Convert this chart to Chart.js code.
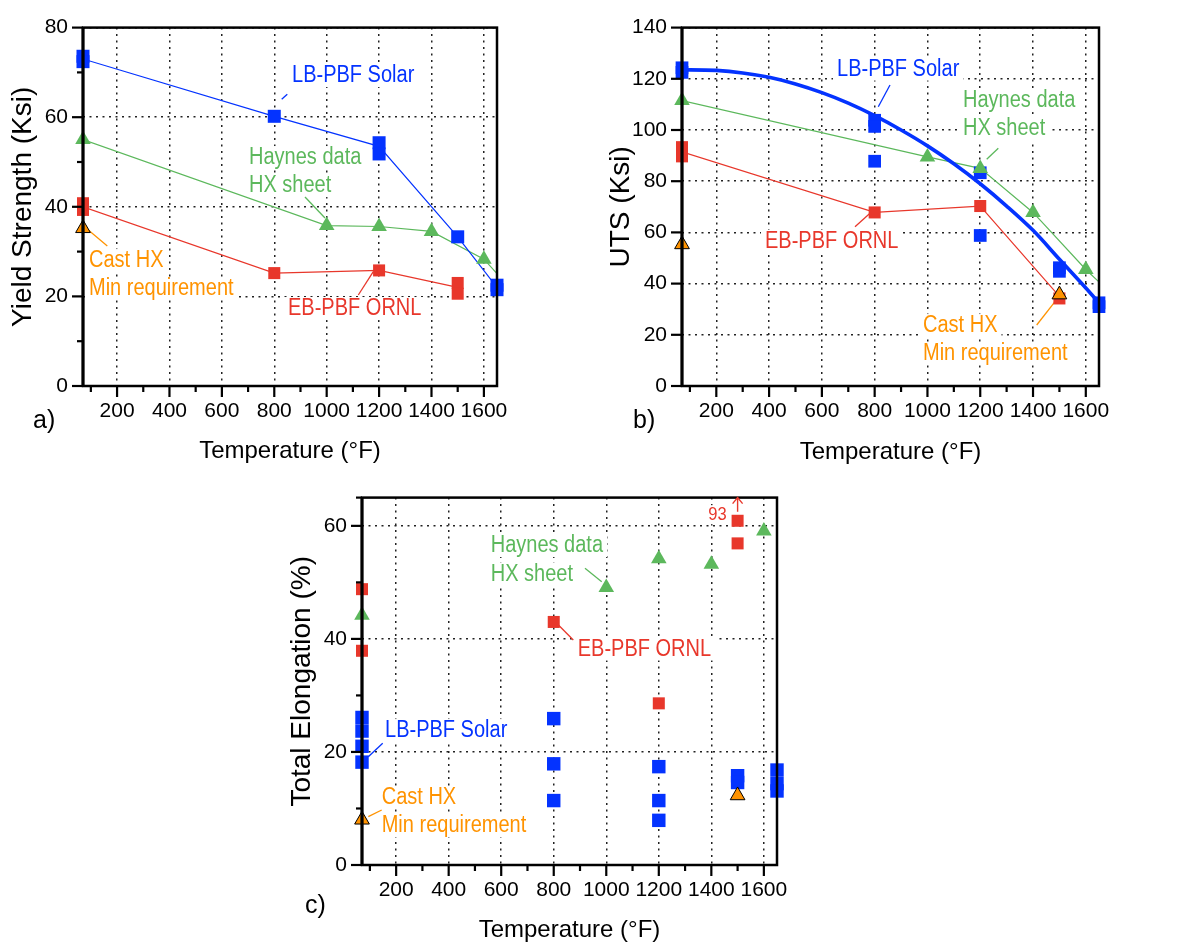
<!DOCTYPE html>
<html><head><meta charset="utf-8">
<script src="https://cdn.jsdelivr.net/npm/chart.js@4/dist/chart.umd.min.js"></script>
<style>
html,body{margin:0;padding:0;background:#fff;width:1185px;height:949px;overflow:hidden;}
canvas{position:absolute;}
</style></head><body>
<canvas id="ca" width="590" height="470" style="left:0;top:0;width:590px;height:470px"></canvas>
<canvas id="cb" width="595" height="470" style="left:590px;top:0;width:595px;height:470px"></canvas>
<canvas id="cc" width="600" height="479" style="left:280px;top:470px;width:600px;height:479px"></canvas>
<script>
// ---------- DATA ----------
const tempTicks = [100,200,300,400,500,600,700,800,900,1000,1100,1200,1300,1400,1500,1600];

// Panel a: Yield strength (Ksi)
const aLbLineX = [70, 800, 1200, 1500, 1650];
const aLbLineY = [73, 60.2, 53.5, 33.3, 22];
const aLbPtsX  = [70, 70, 800, 1200, 1200, 1500, 1650, 1650];
const aLbPtsY  = [73.6, 72.4, 60.2, 54.3, 51.8, 33.3, 22.5, 21.5];
const aHayX    = [70, 1000, 1200, 1400, 1600, 1800];
const aHayY    = [55, 35.8, 35.6, 34.5, 28.3, 15.5];
const aEbLineX = [70, 800, 1200, 1500];
const aEbLineY = [40, 25.2, 25.8, 22];
const aEbPtsX  = [70, 70, 800, 1200, 1500, 1500];
const aEbPtsY  = [40.8, 39.3, 25.2, 25.8, 23.0, 20.6];
const aCastX   = [70];
const aCastY   = [35.2];

// Panel b: UTS (Ksi)
const bFitX    = [70,100,200,300,400,500,600,700,800,900,1000,1100,1200,1300,1400,1500,1600,1650];
const bFitY    = [123.4,123.5,123.3,122.3,120.6,118,114.6,110.5,105.6,100,93.8,86.8,79,70.3,60.8,49.5,38.3,32.5];
const bLbPtsX  = [70, 70, 800, 800, 800, 1200, 1200, 1500, 1500, 1650, 1650];
const bLbPtsY  = [124.3, 122.5, 103.8, 101.4, 87.8, 83.3, 58.8, 46.2, 44.8, 32.5, 31];
const bHayX    = [70, 1000, 1200, 1400, 1600, 1800];
const bHayY    = [111.5, 89.5, 85, 67.8, 45.5, 26];
const bEbLineX = [70, 800, 1200, 1500];
const bEbLineY = [91.5, 67.8, 70.3, 35];
const bEbPtsX  = [70, 70, 800, 1200, 1500];
const bEbPtsY  = [93.3, 89.7, 67.8, 70.3, 34.2];
const bCastX   = [70, 1500];
const bCastY   = [55.3, 35.7];

// Panel c: Total elongation (%)
const cLbX  = [70, 70, 70, 70, 800, 800, 800, 1200, 1200, 1200, 1500, 1500, 1650, 1650, 1650];
const cLbY  = [26.1, 23.7, 21, 18.2, 25.9, 17.9, 11.4, 17.4, 11.4, 7.9, 15.8, 14.6, 16.8, 14.4, 13.1];
const cEbX  = [70, 70, 800, 1200, 1500, 1500];
const cEbY  = [48.8, 37.9, 43, 28.6, 60.9, 56.9];
const cHayX = [70, 1000, 1200, 1400, 1600];
const cHayY = [44.2, 49.1, 54.2, 53.2, 59.1];
const cCastX = [70, 1500];
const cCastY = [8.0, 12.3];

// ---------- STYLE ----------
const F = '"Liberation Sans", Arial, Helvetica, sans-serif';
const BLUE = '#0433FF', RED = '#E8372B', GREEN = '#5CB85C', ORANGE = '#FF9300';
const SQX = 0.87; // horizontal compression of annotation text

function pts(xs, ys){ return xs.map((x,i)=>({x:x, y:ys[i]})); }

function lineDs(xs, ys, color, width, order, extra){
  return Object.assign({type:'line', data:pts(xs,ys), borderColor:color, borderWidth:width,
    pointRadius:0, showLine:true, fill:false, tension:0, order:order}, extra||{});
}
function markDs(xs, ys, color, style, r, order, border){
  return {type:'scatter', data:pts(xs,ys), showLine:false, pointStyle:style, pointRadius:r,
    backgroundColor:color, borderColor:border||color, borderWidth:border?1:0, clip:false, order:order};
}

function makeScales(yMax, yTitle, yW, yTitlePad, xTitlePad){
  return {
    x:{type:'linear', min:70, max:1650,
      afterBuildTicks: s=>{ s.ticks = tempTicks.map(v=>({value:v})); },
      afterFit: s=>{ s.height = 84; },
      ticks:{autoSkip:false, maxRotation:0, padding:13, color:'#000', font:{family:F, size:21},
        callback: v => (v % 200 === 0 ? String(v) : '')},
      grid:{drawTicks:false, lineWidth:1.5,
        color: c => (c.tick && c.tick.value % 200 === 0) ? '#222' : 'rgba(0,0,0,0)'},
      border:{display:false, dash:[2,4.5]},
      title:{display:true, text:'Temperature (°F)', color:'#000', font:{family:F, size:24},
        padding:{top:0, bottom:xTitlePad}}
    },
    y:{type:'linear', min:0, max:yMax,
      afterFit: s=>{ s.width = yW; },
      ticks:{stepSize:10, padding:15, color:'#000', font:{family:F, size:21},
        callback: v => (v % 20 === 0 ? String(v) : '')},
      grid:{drawTicks:false, lineWidth:1.5,
        color: c => (c.tick && c.tick.value % 20 === 0) ? '#222' : 'rgba(0,0,0,0)'},
      border:{display:false, dash:[2,4.5]},
      title:{display:true, text:yTitle, color:'#000', font:{family:F, size:28},
        padding:{top:yTitlePad, bottom:0}}
    }
  };
}

const framePlugin = {
  id:'frame',
  afterDatasetsDraw(chart){
    const ctx = chart.ctx, a = chart.chartArea;
    ctx.save();
    ctx.strokeStyle = '#000';
    ctx.lineWidth = 2.5;
    ctx.strokeRect(a.left, a.top, a.right - a.left, a.bottom - a.top);
    ctx.lineWidth = 3;
    ctx.beginPath(); ctx.moveTo(a.left, a.top); ctx.lineTo(a.left, a.bottom); ctx.stroke();
    // outward ticks from the scales
    ctx.lineWidth = 2.2;
    const xs = chart.scales.x, ys = chart.scales.y;
    xs.ticks.forEach(t=>{
      const px = xs.getPixelForValue(t.value);
      const len = (t.value % 200 === 0) ? 11 : 6;
      ctx.beginPath(); ctx.moveTo(px, a.bottom); ctx.lineTo(px, a.bottom + len); ctx.stroke();
    });
    ys.ticks.forEach(t=>{
      const py = ys.getPixelForValue(t.value);
      const len = (t.value % 20 === 0) ? 11 : 6;
      ctx.beginPath(); ctx.moveTo(a.left, py); ctx.lineTo(a.left - len, py); ctx.stroke();
    });
    ctx.restore();
  }
};

function annoPlugin(texts, leaders, extra){
  return {
    id:'anno',
    beforeDatasetsDraw(chart){
      const ctx = chart.ctx;
      ctx.save();
      texts.forEach(t=>{
        const sz = t.size || 23, sx = (t.sx === undefined) ? SQX : t.sx;
        ctx.font = sz + 'px ' + F;
        const w = ctx.measureText(t.t).width * sx;
        if (t.bg !== false){
          ctx.fillStyle = '#fff';
          ctx.fillRect(t.x - 4, t.y - sz*0.78, w + 8, sz*1.0);
        }
      });
      texts.forEach(t=>{
        const sz = t.size || 23, sx = (t.sx === undefined) ? SQX : t.sx;
        ctx.save();
        ctx.font = sz + 'px ' + F;
        ctx.fillStyle = t.c;
        ctx.textBaseline = 'alphabetic';
        ctx.textAlign = 'left';
        ctx.translate(t.x, t.y);
        ctx.scale(sx, 1);
        ctx.fillText(t.t, 0, 0);
        ctx.restore();
      });
      leaders.forEach(l=>{
        ctx.strokeStyle = l.c; ctx.lineWidth = 1.3;
        ctx.beginPath(); ctx.moveTo(l.p[0], l.p[1]); ctx.lineTo(l.p[2], l.p[3]); ctx.stroke();
      });
      ctx.restore();
    },
    afterDatasetsDraw(chart){ if (extra) extra(chart); }
  };
}

function build(id, datasets, scales, pad, plugins){
  new Chart(document.getElementById(id), {
    type:'scatter',
    data:{datasets:datasets},
    options:{responsive:false, animation:false, devicePixelRatio:1, events:[],
      layout:{padding:pad},
      plugins:{legend:{display:false}, tooltip:{enabled:false}},
      scales:scales},
    plugins:plugins
  });
}

// ---------- Panel a ----------
build('ca', [
  markDs(aCastX, aCastY, ORANGE, 'triangle', 8.5, 1, '#000'),
  markDs(aHayX.slice(0,5), aHayY.slice(0,5), GREEN, 'triangle', 9, 2),
  markDs(aEbPtsX, aEbPtsY, RED, 'rect', 8.5, 3),
  markDs(aLbPtsX, aLbPtsY, BLUE, 'rect', 9.2, 4),
  lineDs(aLbLineX, aLbLineY, BLUE, 1.2, 5),
  lineDs(aEbLineX, aEbLineY, RED, 1.2, 6),
  lineDs(aHayX, aHayY, GREEN, 1.2, 7)
], makeScales(80, 'Yield Strength (Ksi)', 83, 6, 4), {left:0, top:16, right:93, bottom:0},
[framePlugin, annoPlugin([
  {t:'LB-PBF Solar', x:292, y:82, c:BLUE},
  {t:'Haynes data', x:249, y:164, c:GREEN},
  {t:'HX sheet', x:249, y:192, c:GREEN},
  {t:'Cast HX', x:89, y:267, c:ORANGE},
  {t:'Min requirement', x:89, y:295, c:ORANGE},
  {t:'EB-PBF ORNL', x:288, y:315, c:RED},
  {t:'a)', x:33, y:428, c:'#000', size:25, sx:1, bg:false}
], [
  {c:BLUE, p:[281.7,99.3,287.3,94.3]},
  {c:GREEN, p:[305,197,325,218]},
  {c:ORANGE, p:[107.3,246,88.3,230]},
  {c:RED, p:[358.3,295,373.3,271.7]}
])]);

// ---------- Panel b ----------
build('cb', [
  markDs(bCastX, bCastY, ORANGE, 'triangle', 8.5, 1, '#000'),
  markDs(bHayX.slice(0,5), bHayY.slice(0,5), GREEN, 'triangle', 9, 2),
  markDs(bEbPtsX, bEbPtsY, RED, 'rect', 8.5, 3),
  markDs(bLbPtsX, bLbPtsY, BLUE, 'rect', 9, 4),
  lineDs(bFitX, bFitY, BLUE, 3.6, 5, {tension:0.4, cubicInterpolationMode:'monotone'}),
  lineDs(bEbLineX, bEbLineY, RED, 1.2, 6),
  lineDs(bHayX, bHayY, GREEN, 1.2, 7)
], makeScales(140, 'UTS (Ksi)', 92, 14, 3), {left:0, top:16, right:86, bottom:0},
[framePlugin, annoPlugin([
  {t:'LB-PBF Solar', x:247, y:75.5, c:BLUE},
  {t:'Haynes data', x:373, y:107, c:GREEN},
  {t:'HX sheet', x:373, y:135, c:GREEN},
  {t:'EB-PBF ORNL', x:175, y:247.5, c:RED},
  {t:'Cast HX', x:333, y:332, c:ORANGE},
  {t:'Min requirement', x:333, y:360, c:ORANGE},
  {t:'b)', x:43, y:428, c:'#000', size:25, sx:1, bg:false}
], [
  {c:BLUE, p:[300,85,288.3,106.7]},
  {c:GREEN, p:[408.3,148.3,396.7,159.3]},
  {c:RED, p:[265,226.7,280,213.3]},
  {c:ORANGE, p:[446.7,325,465,301.7]}
])]);

// ---------- Panel c ----------
build('cc', [
  markDs(cCastX, cCastY, ORANGE, 'triangle', 8.5, 1, '#000'),
  markDs(cHayX, cHayY, GREEN, 'triangle', 9, 2),
  markDs(cEbX, cEbY, RED, 'rect', 8.5, 3),
  markDs(cLbX, cLbY, BLUE, 'rect', 9.5, 4)
], makeScales(65, 'Total Elongation (%)', 82, 5, 4), {left:0, top:26, right:103, bottom:0},
[framePlugin, annoPlugin([
  {t:'Haynes data', x:210.7, y:82, c:GREEN},
  {t:'HX sheet', x:210.7, y:110.5, c:GREEN},
  {t:'EB-PBF ORNL', x:297.7, y:185.5, c:RED},
  {t:'LB-PBF Solar', x:105, y:267, c:BLUE},
  {t:'Cast HX', x:101.7, y:334, c:ORANGE},
  {t:'Min requirement', x:101.7, y:362, c:ORANGE},
  {t:'93', x:428.3, y:50, c:RED, size:19},
  {t:'c)', x:25, y:443, c:'#000', size:25, sx:1, bg:false}
], [
  {c:GREEN, p:[305,98.3,321.7,111.7]},
  {c:RED, p:[293.3,170,276.7,153.3]},
  {c:BLUE, p:[102.7,273.3,88.3,286.7]},
  {c:ORANGE, p:[101.7,340,88.3,346.7]}
], function(chart){
  // arrow showing the off-scale 93% value at 1500 F
  const ctx = chart.ctx, xs = chart.scales.x, ys = chart.scales.y, a = chart.chartArea;
  const px = xs.getPixelForValue(1500);
  const y0 = ys.getPixelForValue(cEbY[4]) - 9;
  ctx.save(); ctx.strokeStyle = RED; ctx.lineWidth = 1.4;
  ctx.beginPath(); ctx.moveTo(px, y0); ctx.lineTo(px, a.top); ctx.stroke();
  ctx.beginPath(); ctx.moveTo(px - 5, a.top + 6); ctx.lineTo(px, a.top); ctx.lineTo(px + 5, a.top + 6); ctx.stroke();
  ctx.restore();
})]);
</script>
</body></html>
